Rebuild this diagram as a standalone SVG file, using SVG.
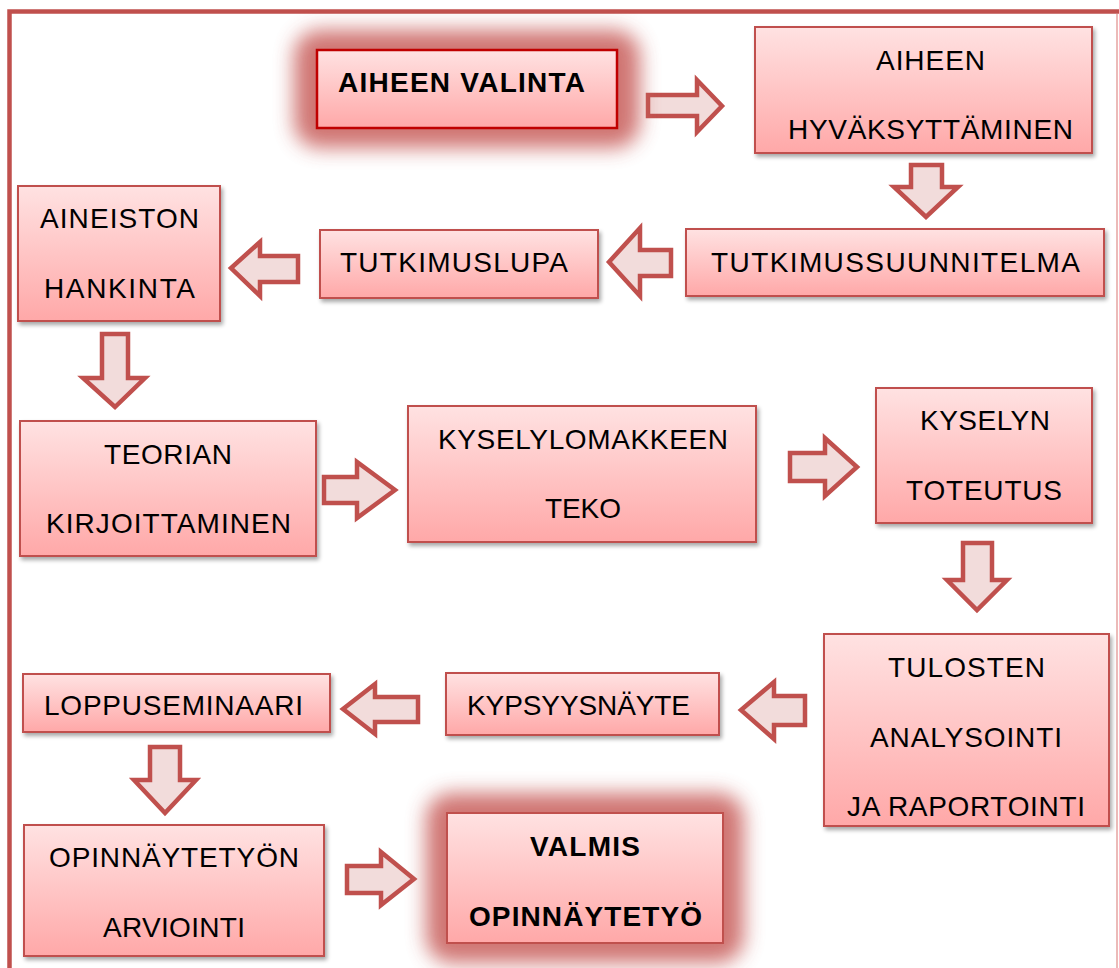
<svg xmlns="http://www.w3.org/2000/svg" width="1119" height="968" viewBox="0 0 1119 968">
<defs>
<linearGradient id="g" x1="0" y1="0" x2="0" y2="1">
<stop offset="0" stop-color="#FFE2E2"/>
<stop offset="1" stop-color="#FFA8A8"/>
</linearGradient>
<filter id="sh" x="-10%" y="-10%" width="120%" height="130%">
<feGaussianBlur in="SourceAlpha" stdDeviation="2"/>
<feOffset dx="2" dy="3" result="b"/>
<feComponentTransfer><feFuncA type="linear" slope="0.35"/></feComponentTransfer>
<feMerge><feMergeNode/><feMergeNode in="SourceGraphic"/></feMerge>
</filter>
<filter id="glow" x="-40%" y="-60%" width="180%" height="220%">
<feGaussianBlur stdDeviation="10"/>
</filter>
<style>
.b{fill:url(#g);stroke:#C0504D;stroke-width:2;filter:url(#sh)}
.t{font-family:"Liberation Sans",Arial,sans-serif;font-size:28px;fill:#000;text-anchor:middle}
.bold{font-weight:bold}
.a{fill:#F2DCDB;stroke:#C0504D;stroke-width:4.5;stroke-linejoin:miter}
.gl{fill:#CB6663;opacity:0.9;filter:url(#glow)}
</style>
</defs>
<rect width="1119" height="968" fill="#fff"/>
<g id="frame" fill="none">
<path d="M9.5 968 V11.5 H1119" stroke="#C0504D" stroke-width="4.5"/>
<line x1="1117" y1="14" x2="1117" y2="968" stroke="#E6A3A1" stroke-width="1.5"/>
</g>
<g id="connectors">
<path class="a" d="M648 95 H697 V80 L722 106 L697 132 V116 H648 Z"/>
<path class="a" d="M911 165 H942 V187 H958 L926 217 L894 187 H911 Z"/>
<path class="a" d="M671 250 H640 V228 L609 262 L640 296 V276 H671 Z"/>
<path class="a" d="M298 256 H260 V242 L231 268 L260 296 V282 H298 Z"/>
<path class="a" d="M102 334 H128 V378 H145 L115 407 L83 378 H102 Z"/>
<path class="a" d="M324 477 H357 V462 L395 490 L357 518 V503 H324 Z"/>
<path class="a" d="M790 453 H825 V438 L857 467 L825 496 V481 H790 Z"/>
<path class="a" d="M963 543 H992 V580 H1007 L977 610 L947 580 H963 Z"/>
<path class="a" d="M805 696 H774 V682 L741 710 L774 739 V725 H805 Z"/>
<path class="a" d="M418 697 H375 V684 L343 709 L375 734 V722 H418 Z"/>
<path class="a" d="M150 747 H180 V780 H196 L165 813 L134 780 H150 Z"/>
<path class="a" d="M347 866 H381 V852 L414 879 L381 905 V893 H347 Z"/>
</g>
<g id="n1">
<rect class="gl" x="294" y="30" width="346" height="118" rx="26"/>
<rect x="317" y="50" width="300" height="78" fill="url(#g)" stroke="#C00000" stroke-width="2.5"/>
<text class="t bold" x="461.5" y="92" textLength="247">AIHEEN VALINTA</text>
</g>
<g id="n2">
<rect class="b" x="755" y="27" width="337" height="126"/>
<text class="t" x="930.5" y="70" textLength="109">AIHEEN</text>
<text class="t" x="930.5" y="139" textLength="285">HYVÄKSYTTÄMINEN</text>
</g>
<g id="n3">
<rect class="b" x="686" y="229" width="418" height="67"/>
<text class="t" x="895.5" y="272" textLength="369">TUTKIMUSSUUNNITELMA</text>
</g>
<g id="n4">
<rect class="b" x="320" y="230" width="278" height="68"/>
<text class="t" x="454" y="272" textLength="228">TUTKIMUSLUPA</text>
</g>
<g id="n5">
<rect class="b" x="18" y="186" width="202" height="135"/>
<text class="t" x="119.5" y="228" textLength="159">AINEISTON</text>
<text class="t" x="119.5" y="298" textLength="151">HANKINTA</text>
</g>
<g id="n6">
<rect class="b" x="20" y="421" width="296" height="135"/>
<text class="t" x="168" y="464" textLength="128">TEORIAN</text>
<text class="t" x="168.5" y="533" textLength="245">KIRJOITTAMINEN</text>
</g>
<g id="n7">
<rect class="b" x="408" y="406" width="348" height="136"/>
<text class="t" x="583" y="449" textLength="290">KYSELYLOMAKKEEN</text>
<text class="t" x="583" y="518" textLength="76">TEKO</text>
</g>
<g id="n8">
<rect class="b" x="876" y="388" width="216" height="135"/>
<text class="t" x="985" y="430" textLength="130">KYSELYN</text>
<text class="t" x="984" y="500" textLength="156">TOTEUTUS</text>
</g>
<g id="n9">
<rect class="b" x="824" y="634" width="285" height="192"/>
<text class="t" x="966.5" y="677" textLength="157">TULOSTEN</text>
<text class="t" x="966" y="747" textLength="192">ANALYSOINTI</text>
<text class="t" x="966" y="816" textLength="238">JA RAPORTOINTI</text>
</g>
<g id="n10">
<rect class="b" x="446" y="673" width="273" height="62"/>
<text class="t" x="578.5" y="715" textLength="223">KYPSYYSNÄYTE</text>
</g>
<g id="n11">
<rect class="b" x="23" y="674" width="307" height="58"/>
<text class="t" x="173.5" y="715" textLength="259">LOPPUSEMINAARI</text>
</g>
<g id="n12">
<rect class="b" x="24" y="825" width="300" height="131"/>
<text class="t" x="174" y="867" textLength="250">OPINNÄYTETYÖN</text>
<text class="t" x="174" y="937" textLength="142">ARVIOINTI</text>
</g>
<g id="n13">
<rect class="gl" x="426" y="793" width="318" height="170" rx="26"/>
<rect x="447" y="813" width="276" height="130" fill="url(#g)" stroke="#C0504D" stroke-width="2"/>
<text class="t bold" x="585" y="856" textLength="110">VALMIS</text>
<text class="t bold" x="585.5" y="926" textLength="233">OPINNÄYTETYÖ</text>
</g>
</svg>
